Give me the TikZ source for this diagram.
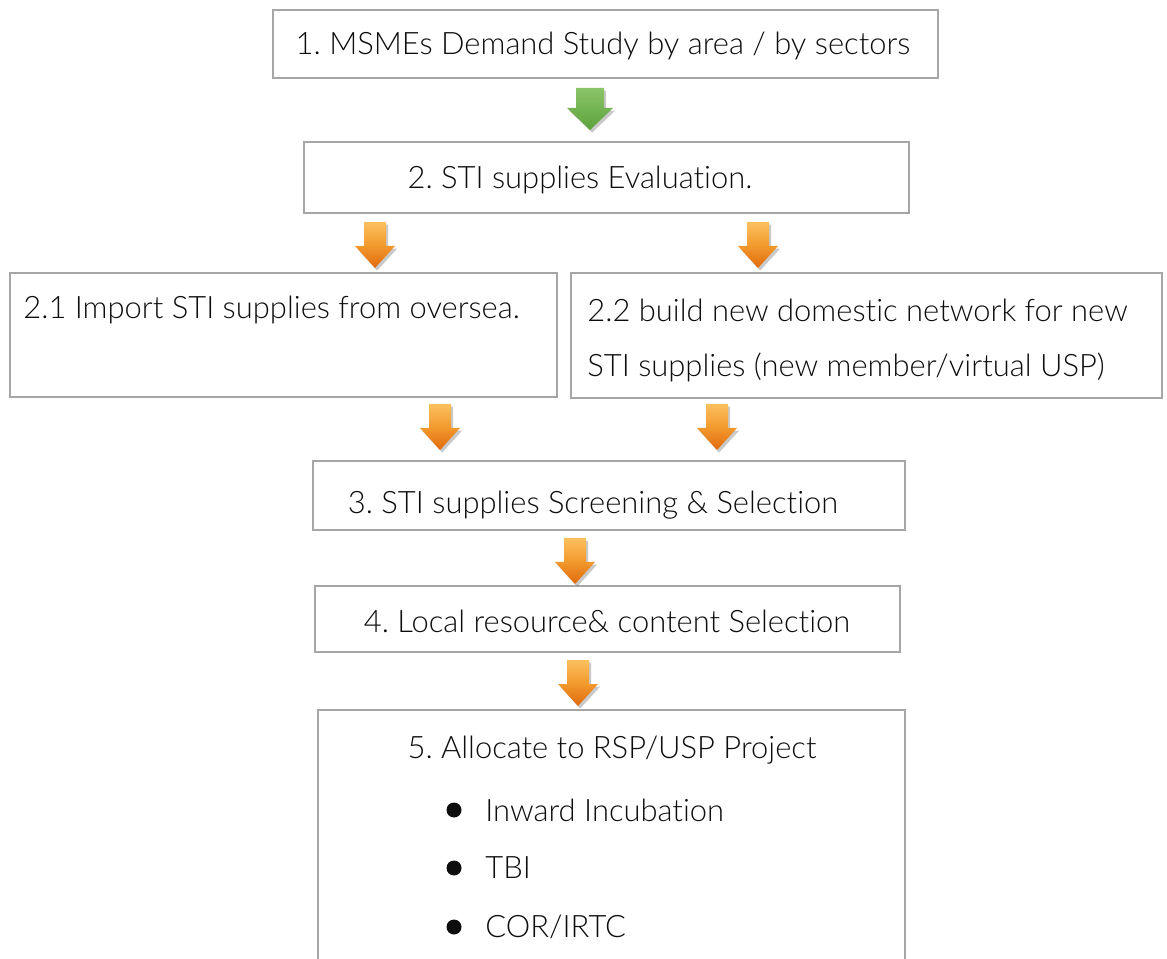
\documentclass[tikz,border=0pt]{standalone}
\usepackage{fontspec}
\setmainfont{Lato}[UprightFont=* Light, Ligatures=NoCommon, RawFeature=-liga]
\frenchspacing
\usetikzlibrary{shadows,fadings}
\definecolor{boxgray}{HTML}{A6A6A6}
\definecolor{txt}{HTML}{0D0D0D}
\definecolor{orTop}{HTML}{FBC05E}
\definecolor{orMid}{HTML}{F39A2E}
\definecolor{orBot}{HTML}{E06A0C}
\definecolor{grTop}{HTML}{8CC46A}
\definecolor{grBot}{HTML}{5BA33B}
\tikzset{
  box/.style={draw=boxgray, line width=1.5pt, fill=white},
  lbl/.style={text=txt, inner sep=0pt, font=\fontsize{17.6}{21}\selectfont},
  orangearrow/.style={top color=orTop, bottom color=orBot, middle color=orMid,
     draw=none, drop shadow={shadow xshift=1.2pt, shadow yshift=-1.5pt, opacity=0.35, fill=black!60}},
  greenarrow/.style={top color=grTop, bottom color=grBot,
     draw=none, drop shadow={shadow xshift=1.2pt, shadow yshift=-1.5pt, opacity=0.35, fill=black!60}},
}
% down block arrow: #1 = top-centre coordinate, #2 shaft half width, #3 shaft length, #4 head half width, #5 head length, #6 style
\newcommand{\blockarrow}[6]{%
  \path[#6] (#1) ++(-#2,0) -- ++(2*#2,0) -- ++(0,#3) -- ++(#4-#2,0) -- ++(-#4,#5) -- ++(-#4,-#5) -- ++(#4-#2,0) -- cycle;}
\begin{document}
\frenchspacing
\begin{tikzpicture}[x=0.02cm,y=-0.02cm]
\useasboundingbox[fill=white] (0,0) rectangle (1167,959);

% boxes
\draw[box] (273,10) rectangle (938,78);
\node[lbl, anchor=center] (t1) at (603,46) {1. MSMEs Demand Study by area / by sectors};

\draw[box] (304,142) rectangle (909,213);
\node[lbl, anchor=center] (t2) at (580,180) {2. STI supplies Evaluation.};

\draw[box] (10,273) rectangle (557,397);
\node[lbl, anchor=west] (t21) at (23,310) {2.1 Import STI supplies from oversea.};

\draw[box] (571,273) rectangle (1162,398);
\node[lbl, anchor=west] (t22a) at (587,310) {2.2 build new domestic network for new};
\node[lbl, anchor=west] (t22b) at (587,367) {STI supplies (new member/virtual USP)};

\draw[box] (313,461) rectangle (905,530);
\node[lbl, anchor=center] (t3) at (593,505) {3. STI supplies Screening \& Selection};

\draw[box] (315,586) rectangle (900,652);
\node[lbl, anchor=center] (t4) at (607,621) {4. Local resource\& content Selection};

\draw[box] (318,962) -- (318,710) -- (905,710) -- (905,962);
\node[lbl, anchor=center] (t5) at (612,750) {5. Allocate to RSP/USP Project};
\fill[txt] (454,810) circle (7.5);
\node[lbl, anchor=west] (b1) at (485,810) {Inward Incubation};
\fill[txt] (454,868) circle (7.5);
\node[lbl, anchor=west] (b2) at (485,868) {TBI};
\fill[txt] (454,927) circle (7.5);
\node[lbl, anchor=west] (b3) at (485,927) {COR/IRTC};

% arrows
\coordinate (g1) at (590,88);
\blockarrow{g1}{14}{20}{23}{22}{greenarrow}
\coordinate (a1) at (375,222);
\blockarrow{a1}{11}{24}{20}{22}{orangearrow}
\coordinate (a2) at (758,222);
\blockarrow{a2}{11}{24}{20}{22}{orangearrow}
\coordinate (a3) at (440,404);
\blockarrow{a3}{11}{24}{20}{22}{orangearrow}
\coordinate (a4) at (717,404);
\blockarrow{a4}{11}{24}{20}{22}{orangearrow}
\coordinate (a5) at (575,538);
\blockarrow{a5}{11}{24}{20}{22}{orangearrow}
\coordinate (a6) at (578,660);
\blockarrow{a6}{11}{24}{20}{22}{orangearrow}
\end{tikzpicture}
\end{document}
